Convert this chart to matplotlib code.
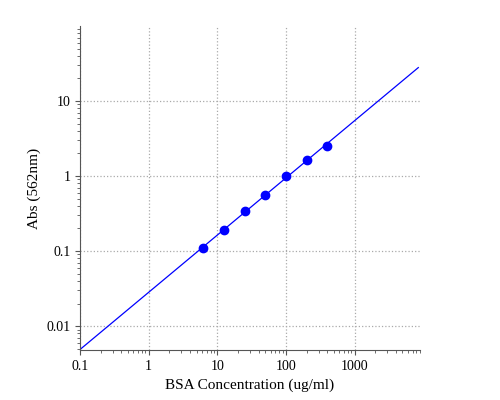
import matplotlib
matplotlib.use("Agg")
import matplotlib.pyplot as plt
import numpy as np

plt.rcParams['font.family'] = ['Liberation Serif', 'DejaVu Serif']

conc = [6.25, 12.5, 25, 50, 100, 200, 400]
absorb = [0.11, 0.19, 0.34, 0.56, 1.0, 1.62, 2.55]

# power-law fit through the standards
b, a = np.polyfit(np.log10(conc), np.log10(absorb), 1)
xfit = np.logspace(-1, np.log10(8500), 100)
yfit = 10 ** (a + b * np.log10(xfit))

fig = plt.figure(figsize=(5, 4), dpi=100)
ax = fig.add_axes([0.16, 0.125, 0.68, 0.81])
ax.plot(xfit, yfit, color='blue', lw=0.9)
ax.plot(conc, absorb, 'o', color='blue', ms=6)
ax.set_xscale('log')
ax.set_yscale('log')
ax.set_xlim(0.1, 9000)
ax.set_ylim(0.0048, 100)
ax.set_xticks([0.1, 1, 10, 100, 1000])
ax.set_xticklabels(['0.1', '1', '10', '100', '1000'])
ax.set_yticks([0.01, 0.1, 1, 10])
ax.set_yticklabels(['0.01', '0.1', '1', '10'])
ax.grid(True, which='major', ls=':', color='#aaaaaa', lw=0.9)
for s in ['top', 'right']:
    ax.spines[s].set_visible(False)
for s in ['left', 'bottom']:
    ax.spines[s].set_color('#555555')
ax.tick_params(which='both', direction='out', labelsize=10, color='#555555')
ax.set_xlabel('BSA Concentration (ug/ml)', fontsize=11)
ax.set_ylabel('Abs (562nm)', fontsize=11)
fig.savefig('out.png')
